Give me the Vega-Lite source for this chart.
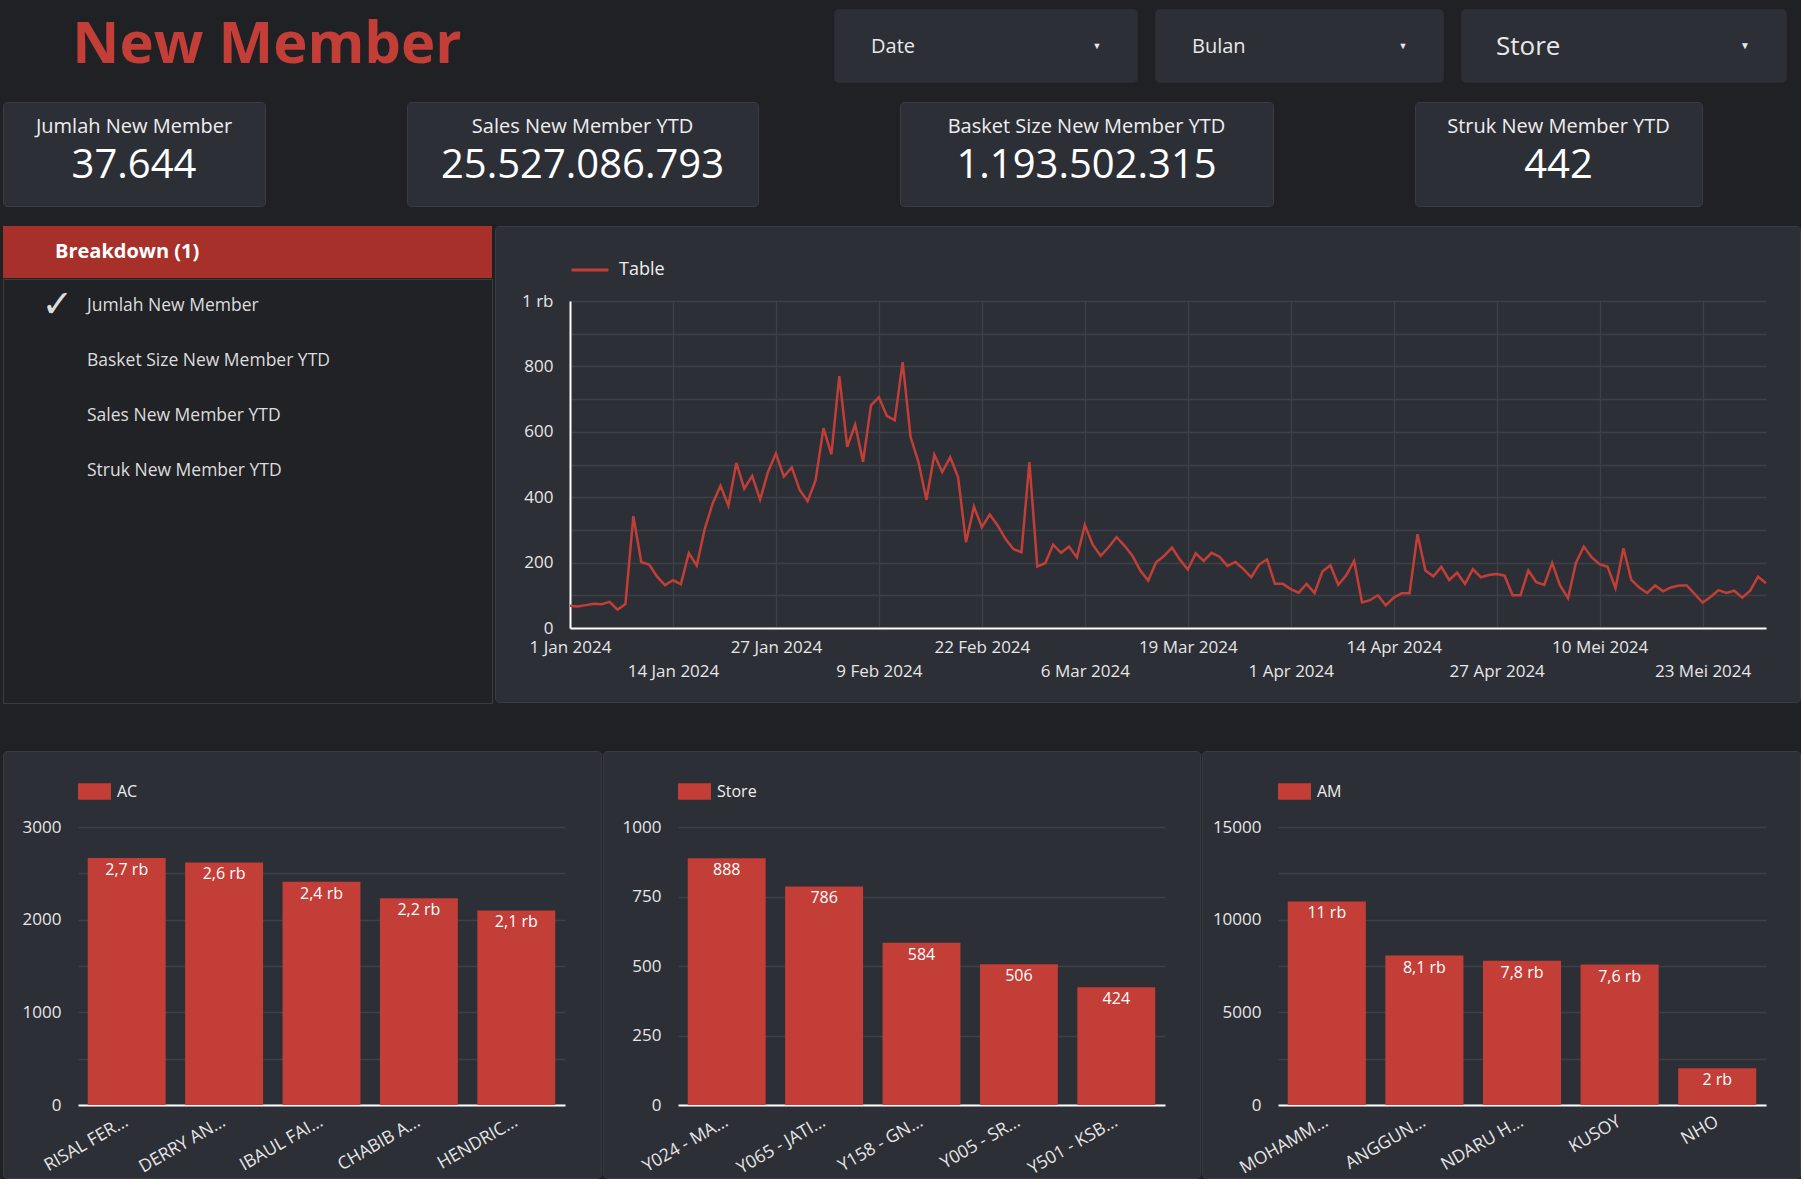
{
  "$schema": "https://vega.github.io/schema/vega-lite/v6.json",
  "background": "#202124",
  "padding": {"left": 2, "top": 8, "right": 0, "bottom": 0},
  "config": {
    "font": "Open Sans",
    "locale": {"number": {"decimal": ",", "thousands": ".", "grouping": [3], "currency": ["Rp", ""]}},
    "view": {"fill": "#2d2f36", "stroke": "#3a3c43", "cornerRadius": 4},
    "axis": {"labelFont": "Open Sans", "labelColor": "#e6e6e6", "labelFontSize": 17, "ticks": false, "gridColor": "#3d4047", "gridWidth": 1.3, "domainColor": "#ffffff", "domainWidth": 2},
    "text": {"font": "Open Sans", "color": "#eeeeee"},
    "legend": {"labelFont": "Open Sans", "labelColor": "#eeeeee"}
  },
  "spacing": 46,
  "resolve": {"scale": {"color": "independent"}, "legend": {"color": "independent"}},
  "vconcat": [
    {
      "spacing": 18,
      "resolve": {"scale": {"color": "independent"}, "legend": {"color": "independent"}},
      "vconcat": [
        {
          "spacing": 302,
          "hconcat": [
            {
              "width": 528, "height": 73,
              "view": {"fill": null, "stroke": null},
              "data": {"values": [{"t": "New Member"}]},
              "mark": {"type": "text", "fontSize": 58, "fontWeight": "bold", "color": "#c23e37", "dy": 0},
              "encoding": {"text": {"field": "t"}}
            },
            {
              "spacing": 16,
              "hconcat": [
                {
                  "width": 303, "height": 73,
                  "view": {"fill": "#2d2f36", "stroke": "#2a2c31", "cornerRadius": 4},
                  "data": {"values": [{"label": "Date", "arrow": "▼"}]},
                  "layer": [
                    {"mark": {"type": "text", "align": "left", "fontSize": 20, "dx": -114.5, "dy": 1, "color": "#e8e8e8"}, "encoding": {"text": {"field": "label"}}},
                    {"mark": {"type": "text", "fontSize": 9, "dx": 111.5, "color": "#e8e8e8"}, "encoding": {"text": {"field": "arrow"}}}
                  ]
                },
                {
                  "width": 288, "height": 73,
                  "view": {"fill": "#2d2f36", "stroke": "#2a2c31", "cornerRadius": 4},
                  "data": {"values": [{"label": "Bulan", "arrow": "▼"}]},
                  "layer": [
                    {"mark": {"type": "text", "align": "left", "fontSize": 20, "dx": -107, "dy": 1, "color": "#e8e8e8"}, "encoding": {"text": {"field": "label"}}},
                    {"mark": {"type": "text", "fontSize": 9, "dx": 104, "color": "#e8e8e8"}, "encoding": {"text": {"field": "arrow"}}}
                  ]
                },
                {
                  "width": 325, "height": 73,
                  "view": {"fill": "#2d2f36", "stroke": "#2a2c31", "cornerRadius": 4},
                  "data": {"values": [{"label": "Store", "arrow": "▼"}]},
                  "layer": [
                    {"mark": {"type": "text", "align": "left", "fontSize": 26, "dx": -127.5, "dy": 1, "color": "#e8e8e8"}, "encoding": {"text": {"field": "label"}}},
                    {"mark": {"type": "text", "fontSize": 10, "dx": 121.5, "color": "#e8e8e8"}, "encoding": {"text": {"field": "arrow"}}}
                  ]
                }
              ]
            }
          ]
        },
        {
          "spacing": 140,
          "hconcat": [
            {
              "width": 262, "height": 104,
              "view": {"fill": "#2d2f36", "stroke": "#3a3c43", "cornerRadius": 4},
              "data": {"values": [{"label": "Jumlah New Member", "value": 37644}]},
              "layer": [
                {"mark": {"type": "text", "fontSize": 20, "dy": -27}, "encoding": {"text": {"field": "label"}}},
                {"mark": {"type": "text", "fontSize": 40, "dy": 12, "color": "#ffffff"}, "encoding": {"text": {"field": "value", "type": "quantitative", "format": ",d"}}}
              ]
            },
            {
              "width": 351, "height": 104,
              "view": {"fill": "#2d2f36", "stroke": "#3a3c43", "cornerRadius": 4},
              "data": {"values": [{"label": "Sales New Member YTD", "value": 25527086793}]},
              "layer": [
                {"mark": {"type": "text", "fontSize": 20, "dy": -27}, "encoding": {"text": {"field": "label"}}},
                {"mark": {"type": "text", "fontSize": 40, "dy": 12, "color": "#ffffff"}, "encoding": {"text": {"field": "value", "type": "quantitative", "format": ",d"}}}
              ]
            },
            {
              "width": 373, "height": 104,
              "view": {"fill": "#2d2f36", "stroke": "#3a3c43", "cornerRadius": 4},
              "data": {"values": [{"label": "Basket Size New Member YTD", "value": 1193502315}]},
              "layer": [
                {"mark": {"type": "text", "fontSize": 20, "dy": -27}, "encoding": {"text": {"field": "label"}}},
                {"mark": {"type": "text", "fontSize": 40, "dy": 12, "color": "#ffffff"}, "encoding": {"text": {"field": "value", "type": "quantitative", "format": ",d"}}}
              ]
            },
            {
              "width": 287, "height": 104,
              "view": {"fill": "#2d2f36", "stroke": "#3a3c43", "cornerRadius": 4},
              "data": {"values": [{"label": "Struk New Member YTD", "value": 442}]},
              "layer": [
                {"mark": {"type": "text", "fontSize": 20, "dy": -27}, "encoding": {"text": {"field": "label"}}},
                {"mark": {"type": "text", "fontSize": 40, "dy": 12, "color": "#ffffff"}, "encoding": {"text": {"field": "value", "type": "quantitative", "format": ",d"}}}
              ]
            }
          ]
        },
        {
          "spacing": 1,
          "resolve": {"scale": {"color": "independent"}, "legend": {"color": "independent"}},
          "hconcat": [
            {
              "spacing": 0,
              "vconcat": [
                {
                  "width": 489, "height": 52,
                  "view": {"fill": "#a8302a", "stroke": null, "cornerRadius": 0},
                  "data": {"values": [{"t": "Breakdown (1)"}]},
                  "mark": {"type": "text", "align": "left", "fontSize": 20, "fontWeight": "bold", "color": "#ffffff", "dx": -192.5},
                  "encoding": {"text": {"field": "t"}}
                },
                {
                  "width": 489, "height": 424,
                  "view": {"fill": "#212226", "stroke": "#3a3c43", "cornerRadius": 0},
                  "data": {"values": [
                    {"item": "Jumlah New Member", "check": "✓"},
                    {"item": "Basket Size New Member YTD", "check": ""},
                    {"item": "Sales New Member YTD", "check": ""},
                    {"item": "Struk New Member YTD", "check": ""}
                  ]},
                  "encoding": {"y": {"field": "item", "type": "nominal", "sort": null, "scale": {"type": "point", "range": [27, 192], "padding": 0}, "axis": null}},
                  "layer": [
                    {"mark": {"type": "text", "align": "left", "fontSize": 17.5, "dx": -160.5, "color": "#dddddd"}, "encoding": {"text": {"field": "item"}}},
                    {"mark": {"type": "text", "fontSize": 38, "dx": -190, "color": "#dddddd", "font": "DejaVu Sans"}, "encoding": {"text": {"field": "check"}}}
                  ]
                }
              ]
            },
            {
              "width": 1305, "height": 476,
              "view": {"fill": "#2d2f36", "stroke": "#3a3c43", "cornerRadius": 4},
              "data": {"values": [
                {"d":"2024-01-01","v":68},{"d":"2024-01-02","v":66},{"d":"2024-01-03","v":70},{"d":"2024-01-04","v":74},{"d":"2024-01-05","v":73},{"d":"2024-01-06","v":80},{"d":"2024-01-07","v":56},{"d":"2024-01-08","v":73},{"d":"2024-01-09","v":342},{"d":"2024-01-10","v":201},{"d":"2024-01-11","v":194},{"d":"2024-01-12","v":157},{"d":"2024-01-13","v":131},{"d":"2024-01-14","v":146},{"d":"2024-01-15","v":134},{"d":"2024-01-16","v":229},{"d":"2024-01-17","v":191},{"d":"2024-01-18","v":302},{"d":"2024-01-19","v":380},{"d":"2024-01-20","v":435},{"d":"2024-01-21","v":374},{"d":"2024-01-22","v":505},{"d":"2024-01-23","v":426},{"d":"2024-01-24","v":465},{"d":"2024-01-25","v":393},{"d":"2024-01-26","v":477},{"d":"2024-01-27","v":534},{"d":"2024-01-28","v":463},{"d":"2024-01-29","v":491},{"d":"2024-01-30","v":422},{"d":"2024-01-31","v":388},
                {"d":"2024-02-01","v":451},{"d":"2024-02-02","v":611},{"d":"2024-02-03","v":531},{"d":"2024-02-04","v":770},{"d":"2024-02-05","v":554},{"d":"2024-02-06","v":622},{"d":"2024-02-07","v":508},{"d":"2024-02-08","v":681},{"d":"2024-02-09","v":706},{"d":"2024-02-10","v":649},{"d":"2024-02-11","v":635},{"d":"2024-02-12","v":813},{"d":"2024-02-13","v":584},{"d":"2024-02-14","v":507},{"d":"2024-02-15","v":392},{"d":"2024-02-16","v":530},{"d":"2024-02-17","v":477},{"d":"2024-02-18","v":522},{"d":"2024-02-19","v":461},{"d":"2024-02-20","v":262},{"d":"2024-02-21","v":371},{"d":"2024-02-22","v":308},{"d":"2024-02-23","v":347},{"d":"2024-02-24","v":313},{"d":"2024-02-25","v":272},{"d":"2024-02-26","v":241},{"d":"2024-02-27","v":232},{"d":"2024-02-28","v":507},{"d":"2024-02-29","v":188},
                {"d":"2024-03-01","v":198},{"d":"2024-03-02","v":255},{"d":"2024-03-03","v":230},{"d":"2024-03-04","v":249},{"d":"2024-03-05","v":216},{"d":"2024-03-06","v":315},{"d":"2024-03-07","v":255},{"d":"2024-03-08","v":221},{"d":"2024-03-09","v":247},{"d":"2024-03-10","v":278},{"d":"2024-03-11","v":252},{"d":"2024-03-12","v":221},{"d":"2024-03-13","v":176},{"d":"2024-03-14","v":145},{"d":"2024-03-15","v":201},{"d":"2024-03-16","v":220},{"d":"2024-03-17","v":246},{"d":"2024-03-18","v":209},{"d":"2024-03-19","v":179},{"d":"2024-03-20","v":228},{"d":"2024-03-21","v":205},{"d":"2024-03-22","v":230},{"d":"2024-03-23","v":218},{"d":"2024-03-24","v":190},{"d":"2024-03-25","v":202},{"d":"2024-03-26","v":181},{"d":"2024-03-27","v":155},{"d":"2024-03-28","v":194},{"d":"2024-03-29","v":210},{"d":"2024-03-30","v":135},{"d":"2024-03-31","v":135},
                {"d":"2024-04-01","v":119},{"d":"2024-04-02","v":108},{"d":"2024-04-03","v":135},{"d":"2024-04-04","v":107},{"d":"2024-04-05","v":173},{"d":"2024-04-06","v":192},{"d":"2024-04-07","v":132},{"d":"2024-04-08","v":161},{"d":"2024-04-09","v":205},{"d":"2024-04-10","v":78},{"d":"2024-04-11","v":85},{"d":"2024-04-12","v":100},{"d":"2024-04-13","v":69},{"d":"2024-04-14","v":93},{"d":"2024-04-15","v":106},{"d":"2024-04-16","v":106},{"d":"2024-04-17","v":287},{"d":"2024-04-18","v":176},{"d":"2024-04-19","v":158},{"d":"2024-04-20","v":187},{"d":"2024-04-21","v":147},{"d":"2024-04-22","v":169},{"d":"2024-04-23","v":135},{"d":"2024-04-24","v":180},{"d":"2024-04-25","v":155},{"d":"2024-04-26","v":162},{"d":"2024-04-27","v":165},{"d":"2024-04-28","v":160},{"d":"2024-04-29","v":100},{"d":"2024-04-30","v":100},
                {"d":"2024-05-01","v":176},{"d":"2024-05-02","v":140},{"d":"2024-05-03","v":132},{"d":"2024-05-04","v":199},{"d":"2024-05-05","v":130},{"d":"2024-05-06","v":91},{"d":"2024-05-07","v":199},{"d":"2024-05-08","v":249},{"d":"2024-05-09","v":216},{"d":"2024-05-10","v":195},{"d":"2024-05-11","v":187},{"d":"2024-05-12","v":122},{"d":"2024-05-13","v":244},{"d":"2024-05-14","v":147},{"d":"2024-05-15","v":124},{"d":"2024-05-16","v":107},{"d":"2024-05-17","v":130},{"d":"2024-05-18","v":112},{"d":"2024-05-19","v":124},{"d":"2024-05-20","v":130},{"d":"2024-05-21","v":130},{"d":"2024-05-22","v":104},{"d":"2024-05-23","v":78},{"d":"2024-05-24","v":95},{"d":"2024-05-25","v":116},{"d":"2024-05-26","v":107},{"d":"2024-05-27","v":114},{"d":"2024-05-28","v":93},{"d":"2024-05-29","v":114},{"d":"2024-05-30","v":157},{"d":"2024-05-31","v":137}
              ]},
              "mark": {"type": "line", "strokeWidth": 2.5},
              "encoding": {
                "x": {
                  "field": "d", "type": "temporal", "title": null,
                  "scale": {"type": "utc", "domain": [1704067200000, 1717113600000], "range": [75, 1271], "nice": false},
                  "axis": {
                    "values": [1704067200000, 1705190400000, 1706313600000, 1707436800000, 1708560000000, 1709683200000, 1710806400000, 1711929600000, 1713052800000, 1714176000000, 1715299200000, 1716422400000],
                    "labelExpr": "utcdate(datum.value) + ' ' + ['Jan','Feb','Mar','Apr','Mei','Jun','Jul','Agu','Sep','Okt','Nov','Des'][utcmonth(datum.value)] + ' 2024'",
                    "grid": true, "domain": true, "offset": -74,
                    "labelBaseline": "top", "labelOverlap": false, "labelFlush": false, "labelBound": false,
                    "labelPadding": {"condition": {"test": "round((datum.value - 1704067200000) / 1123200000) % 2 == 1", "value": 35}, "value": 11}
                  }
                },
                "y": {
                  "field": "v", "type": "quantitative", "title": null,
                  "scale": {"domain": [0, 1000], "range": [402, 75], "nice": false},
                  "axis": {
                    "values": [0, 100, 200, 300, 400, 500, 600, 700, 800, 900, 1000],
                    "format": "d",
                    "labelExpr": "datum.value == 1000 ? '1 rb' : (datum.value % 200 == 0 ? datum.label : '')",
                    "offset": -75, "domain": true, "labelPadding": 17
                  }
                },
                "color": {
                  "datum": "Table", "type": "nominal",
                  "scale": {"range": ["#c23e37"]},
                  "legend": {"orient": "none", "legendX": 75, "legendY": 24, "title": null, "symbolType": "stroke", "symbolSize": 1369, "symbolStrokeWidth": 3, "labelFontSize": 18, "labelOffset": 9}
                }
              }
            }
          ]
        }
      ]
    },
    {
      "spacing": 0,
      "resolve": {"scale": {"color": "independent"}, "legend": {"color": "independent"}},
      "hconcat": [
        {
          "width": 598, "height": 427,
          "view": {"fill": "#2d2f36", "stroke": "#3a3c43", "cornerRadius": 4},
          "data": {"values": [
            {"name": "RISAL FER…", "v": 2666},
            {"name": "DERRY AN…", "v": 2617},
            {"name": "IBAUL FAI…", "v": 2408},
            {"name": "CHABIB A…", "v": 2232},
            {"name": "HENDRIC…", "v": 2100}
          ]},
          "transform": [{"calculate": "replace(format(datum.v / 1000, '.2'), '.', ',') + ' rb'", "as": "lbl"}],
          "encoding": {
            "x": {"field": "name", "type": "nominal", "sort": null, "title": null,
                  "scale": {"range": [75, 562], "paddingInner": 0.2, "paddingOuter": 0.1},
                  "axis": {"offset": -73, "labelAngle": -30, "labelAlign": "right", "labelBaseline": "middle", "labelPadding": 15, "labelFontSize": 17.5, "grid": false, "domain": true, "labelLimit": 300}},
            "y": {"field": "v", "type": "quantitative", "title": null,
                  "scale": {"domain": [0, 3000], "range": [354, 76], "nice": false},
                  "axis": {"values": [0, 500, 1000, 1500, 2000, 2500, 3000], "format": "d", "labelExpr": "datum.value % 1000 == 0 ? datum.label : ''", "offset": -75, "domain": false, "labelPadding": 17}}
          },
          "layer": [
            {"mark": {"type": "bar"},
             "encoding": {"color": {"datum": "AC", "type": "nominal", "scale": {"range": ["#c23e37"]},
               "legend": {"orient": "none", "legendX": 75, "legendY": 24, "title": null, "symbolType": "M-1,-0.5H1V0.5H-1Z", "symbolSize": 1089, "symbolStrokeWidth": 0, "labelFontSize": 16, "labelOffset": 6}}}},
            {"mark": {"type": "text", "baseline": "middle", "dy": 12, "fontSize": 16, "color": "#ffffff"},
             "encoding": {"text": {"field": "lbl"}}}
          ]
        },
        {
          "width": 597, "height": 427,
          "view": {"fill": "#2d2f36", "stroke": "#3a3c43", "cornerRadius": 4},
          "data": {"values": [
            {"name": "Y024 - MA…", "v": 888},
            {"name": "Y065 - JATI…", "v": 786},
            {"name": "Y158 - GN…", "v": 584},
            {"name": "Y005 - SR…", "v": 506},
            {"name": "Y501 - KSB…", "v": 424}
          ]},
          "encoding": {
            "x": {"field": "name", "type": "nominal", "sort": null, "title": null,
                  "scale": {"range": [75, 562], "paddingInner": 0.2, "paddingOuter": 0.1},
                  "axis": {"offset": -73, "labelAngle": -30, "labelAlign": "right", "labelBaseline": "middle", "labelPadding": 15, "labelFontSize": 17.5, "grid": false, "domain": true, "labelLimit": 300}},
            "y": {"field": "v", "type": "quantitative", "title": null,
                  "scale": {"domain": [0, 1000], "range": [354, 76], "nice": false},
                  "axis": {"values": [0, 250, 500, 750, 1000], "format": "d", "offset": -75, "domain": false, "labelPadding": 17}}
          },
          "layer": [
            {"mark": {"type": "bar"},
             "encoding": {"color": {"datum": "Store", "type": "nominal", "scale": {"range": ["#c23e37"]},
               "legend": {"orient": "none", "legendX": 75, "legendY": 24, "title": null, "symbolType": "M-1,-0.5H1V0.5H-1Z", "symbolSize": 1089, "symbolStrokeWidth": 0, "labelFontSize": 16, "labelOffset": 6}}}},
            {"mark": {"type": "text", "baseline": "middle", "dy": 12, "fontSize": 16, "color": "#ffffff"},
             "encoding": {"text": {"field": "v", "type": "quantitative", "format": "d"}}}
          ]
        },
        {
          "width": 598, "height": 427,
          "view": {"fill": "#2d2f36", "stroke": "#3a3c43", "cornerRadius": 4},
          "data": {"values": [
            {"name": "MOHAMM…", "v": 10983},
            {"name": "ANGGUN…", "v": 8060},
            {"name": "NDARU H…", "v": 7790},
            {"name": "KUSOY", "v": 7580},
            {"name": "NHO", "v": 1980}
          ]},
          "transform": [{"calculate": "replace(format(datum.v / 1000, '.2'), '.', ',') + ' rb'", "as": "lbl"}],
          "encoding": {
            "x": {"field": "name", "type": "nominal", "sort": null, "title": null,
                  "scale": {"range": [76, 564], "paddingInner": 0.2, "paddingOuter": 0.1},
                  "axis": {"offset": -73, "labelAngle": -30, "labelAlign": "right", "labelBaseline": "middle", "labelPadding": 15, "labelFontSize": 17.5, "grid": false, "domain": true, "labelLimit": 300}},
            "y": {"field": "v", "type": "quantitative", "title": null,
                  "scale": {"domain": [0, 15000], "range": [354, 76], "nice": false},
                  "axis": {"values": [0, 2500, 5000, 7500, 10000, 12500, 15000], "format": "d", "labelExpr": "datum.value % 5000 == 0 ? datum.label : ''", "offset": -76, "domain": false, "labelPadding": 17}}
          },
          "layer": [
            {"mark": {"type": "bar"},
             "encoding": {"color": {"datum": "AM", "type": "nominal", "scale": {"range": ["#c23e37"]},
               "legend": {"orient": "none", "legendX": 76, "legendY": 24, "title": null, "symbolType": "M-1,-0.5H1V0.5H-1Z", "symbolSize": 1089, "symbolStrokeWidth": 0, "labelFontSize": 16, "labelOffset": 6}}}},
            {"mark": {"type": "text", "baseline": "middle", "dy": 12, "fontSize": 16, "color": "#ffffff"},
             "encoding": {"text": {"field": "lbl"}}}
          ]
        }
      ]
    }
  ]
}
